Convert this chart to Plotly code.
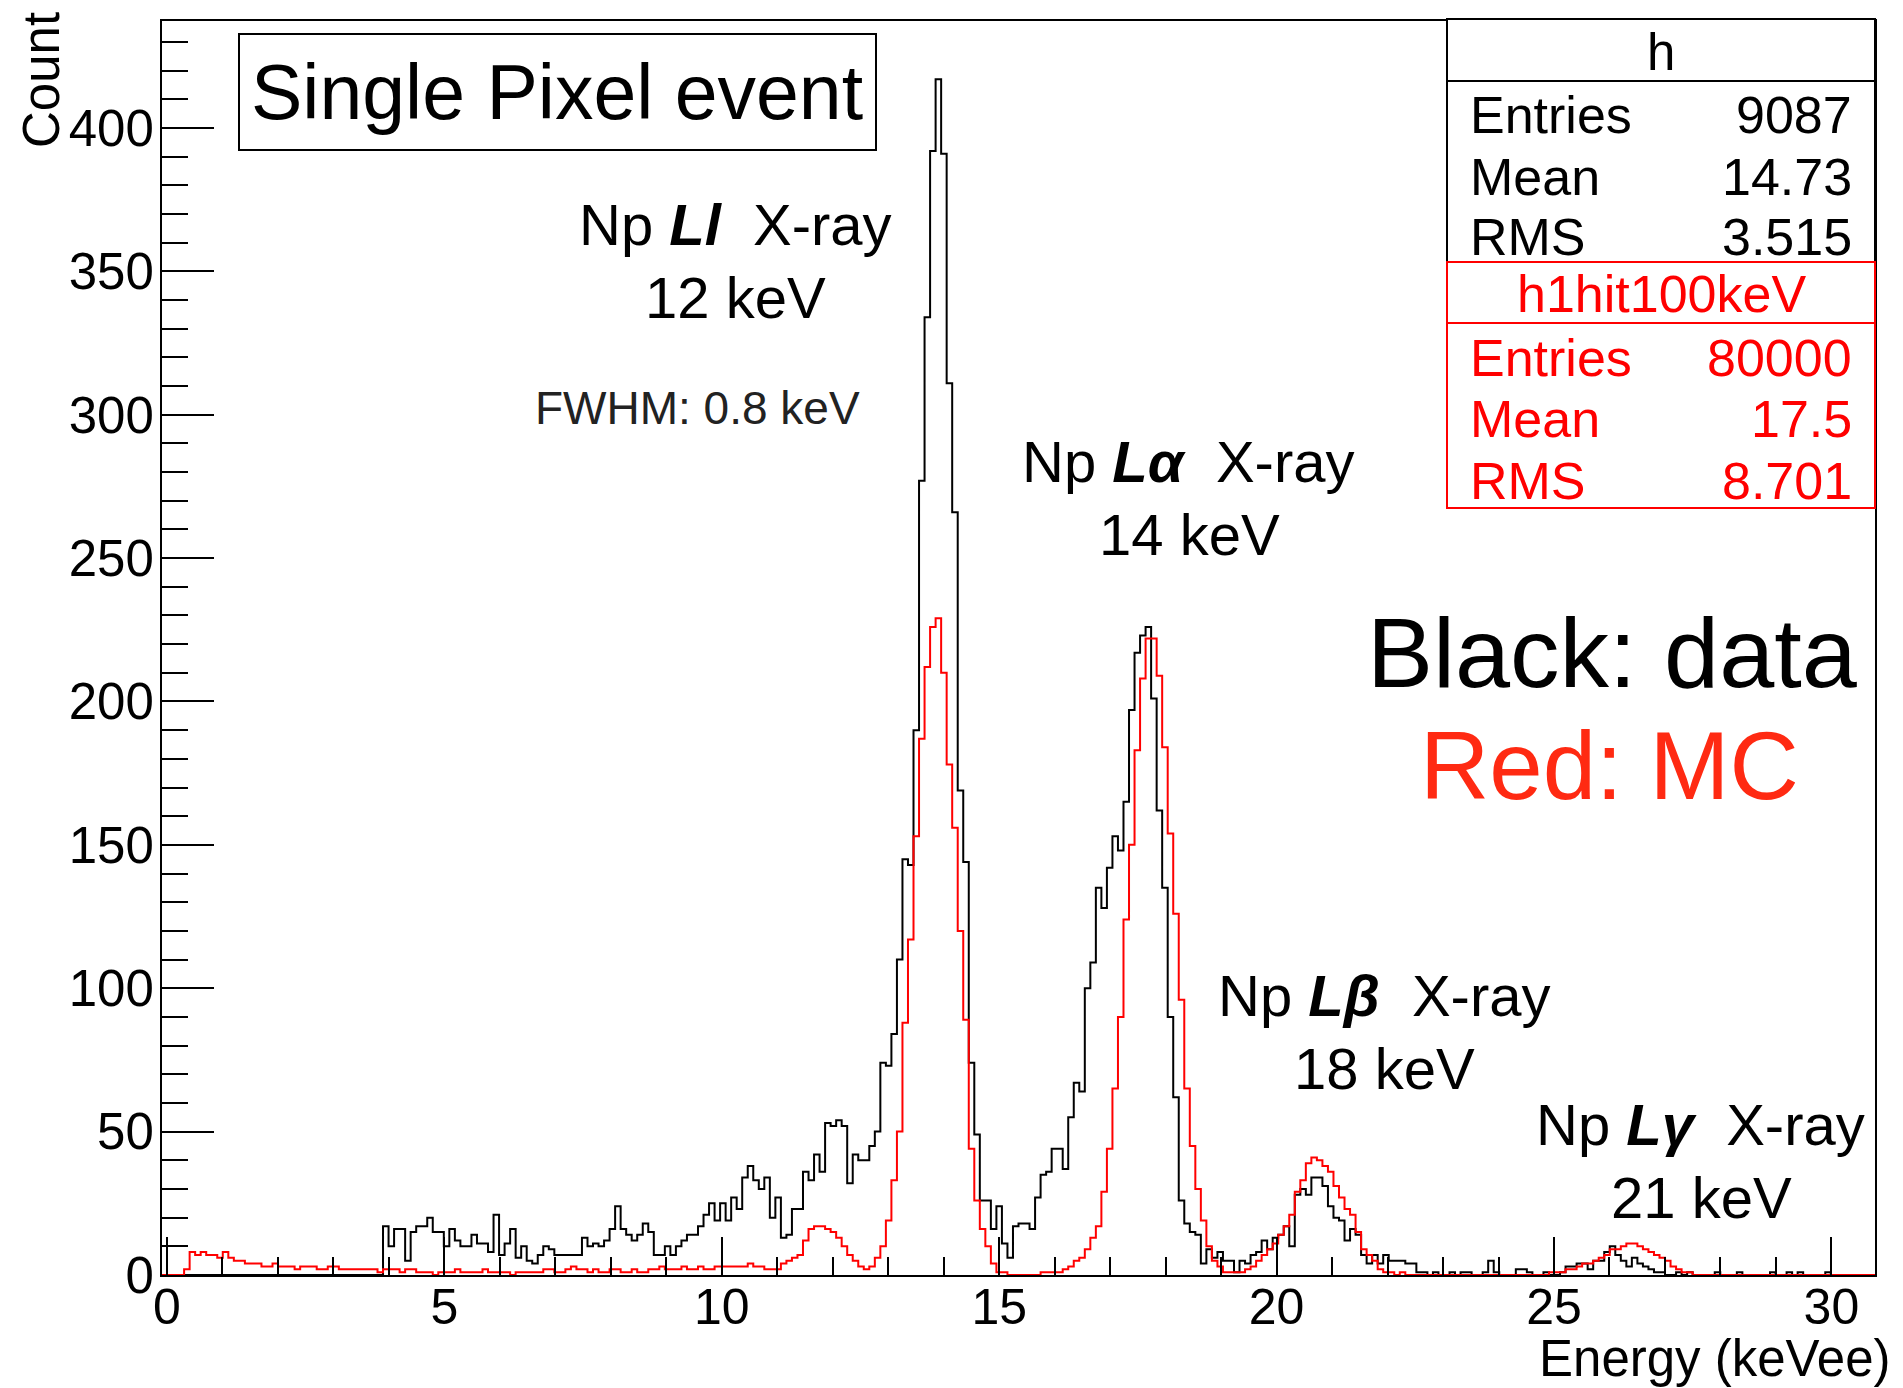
import numpy as np
import plotly.graph_objects as go

# ---------------- data ----------------
# histogram binning (keV)
bin_lo = -0.09
bin_width = 0.0996
n_bins = 310

# black: data  (counts per bin, bin index 0..309)
data_counts = [
    0, 0, 0, 0, 0, 0, 0, 0, 0, 0,
    0, 0, 0, 0, 0, 0, 0, 0, 0, 0,
    0, 0, 0, 0, 0, 0, 0, 0, 0, 0,
    0, 0, 0, 0, 0, 0, 0, 0, 0, 0,
    17, 10, 16, 16, 5, 15, 17, 17, 20, 15,
    15, 10, 16, 12, 10, 10, 14, 11, 11, 8,
    21, 7, 11, 16, 6, 10, 5, 4, 7, 10,
    9, 7, 7, 7, 7, 7, 13, 10, 11, 10,
    12, 16, 24, 16, 14, 12, 14, 18, 15, 7,
    7, 10, 7, 10, 12, 14, 14, 17, 21, 25,
    19, 25, 19, 27, 23, 34, 38, 33, 30, 34,
    20, 27, 13, 14, 23, 23, 36, 33, 42, 36,
    53, 52, 54, 52, 32, 42, 40, 40, 45, 50,
    74, 73, 84, 110, 145, 143, 190, 277, 334, 392,
    417, 391, 311, 266, 169, 144, 74, 49, 26, 26,
    16, 24, 11, 6, 17, 18, 18, 16, 27, 35,
    36, 44, 44, 37, 55, 67, 64, 100, 109, 135,
    128, 142, 153, 148, 165, 197, 217, 223, 226, 201,
    162, 135, 90, 62, 26, 18, 15, 14, 4, 9,
    6, 8, 5, 5, 1, 5, 4, 7, 8, 12,
    9, 13, 14, 17, 10, 28, 30, 28, 34, 34,
    31, 24, 20, 19, 12, 16, 14, 7, 4, 7,
    4, 7, 5, 5, 5, 4, 4, 1, 1, 0,
    1, 0, 0, 1, 0, 1, 1, 0, 0, 1,
    5, 1, 0, 0, 0, 2, 2, 1, 0, 0,
    1, 0, 0, 1, 3, 3, 4, 4, 2, 5,
    5, 8, 10, 7, 5, 3, 6, 4, 3, 2,
    1, 1, 0, 0, 1, 0, 1, 0, 0, 0,
    0, 1, 0, 0, 0, 1, 0, 0, 0, 0,
    0, 1, 0, 0, 1, 0, 1, 0, 0, 0,
    0, 1, 0, 0, 0, 0, 0, 0, 0, 0,
]

# red: MC (scaled counts per bin)
mc_counts = [
    0, 0, 0, 0, 2, 8, 7, 8, 7, 7,
    6, 8, 6, 5, 5, 4, 4, 4, 3, 3,
    4, 3, 3, 3, 2, 3, 3, 3, 2, 2,
    3, 3, 2, 2, 2, 2, 2, 2, 2, 1,
    2, 2, 2, 1, 2, 2, 1, 1, 1, 0,
    1, 1, 1, 2, 1, 1, 1, 1, 2, 1,
    1, 1, 1, 0, 1, 1, 1, 1, 1, 2,
    2, 1, 1, 2, 3, 2, 2, 1, 2, 1,
    1, 2, 2, 1, 1, 2, 1, 1, 2, 2,
    3, 2, 2, 2, 3, 2, 2, 3, 2, 2,
    3, 3, 3, 3, 3, 3, 4, 3, 3, 2,
    2, 2, 4, 5, 6, 7, 12, 16, 17, 17,
    16, 15, 13, 10, 7, 5, 3, 2, 3, 6,
    10, 19, 33, 50, 88, 117, 153, 187, 212, 226,
    229, 210, 178, 156, 120, 89, 44, 26, 16, 10,
    4, 1, 1, 0, 0, 0, 0, 0, 0, 1,
    1, 1, 1, 2, 3, 5, 6, 9, 13, 17,
    29, 44, 65, 90, 124, 150, 183, 208, 222, 222,
    209, 184, 154, 126, 96, 65, 45, 30, 19, 10,
    5, 3, 1, 1, 1, 1, 2, 3, 5, 7,
    9, 11, 14, 17, 21, 29, 33, 39, 41, 40,
    38, 36, 31, 27, 23, 21, 15, 9, 7, 5,
    2, 1, 1, 0, 1, 0, 0, 0, 0, 0,
    0, 0, 0, 0, 0, 0, 0, 0, 0, 0,
    0, 0, 0, 0, 0, 0, 0, 0, 0, 0,
    0, 1, 1, 1, 2, 2, 3, 4, 4, 5,
    6, 7, 9, 9, 10, 11, 11, 10, 9, 8,
    7, 6, 5, 3, 2, 1, 1, 0, 0, 0,
    0, 0, 0, 0, 0, 0, 0, 0, 0, 0,
    0, 0, 0, 0, 0, 0, 0, 0, 0, 0,
    0, 0, 0, 0, 0, 0, 0, 0, 0, 0,
]

x_tick_vals = [0, 5, 10, 15, 20, 25, 30]
y_tick_vals = [0, 50, 100, 150, 200, 250, 300, 350, 400]

stats_data = [("Entries", "9087"), ("Mean", "14.73"), ("RMS", "3.515")]
stats_mc = [("Entries", "80000"), ("Mean", "17.5"), ("RMS", "8.701")]

# ---------------- figure ----------------
edges = bin_lo + bin_width * np.arange(n_bins + 1)
bin_hi = edges[-1]


def step_xy(counts):
    xs = [edges[0]] + list(edges[:-1]) + [edges[-1], edges[-1]]
    ys = [0] + list(counts) + [counts[-1], 0]
    return xs, ys


FONT = "Liberation Sans, Arial, Helvetica, sans-serif"
RED = "#ff0000"

fig = go.Figure()
bx, by = step_xy(data_counts)
rx, ry = step_xy(mc_counts)
fig.add_trace(go.Scatter(x=bx, y=by, mode="lines", line=dict(color="black", width=2, shape="hv"),
                         hoverinfo="skip", showlegend=False))
fig.add_trace(go.Scatter(x=rx, y=ry, mode="lines", line=dict(color=RED, width=2, shape="hv"),
                         hoverinfo="skip", showlegend=False))

W, H = 1903, 1388
L, R, T, B = 162, 28, 21, 113
pw, ph = W - L - R, H - T - B


def px(X):
    return (X - L) / pw


def py(Y):
    return (H - B - Y) / ph


fig.update_layout(
    width=W, height=H,
    margin=dict(l=L, r=R, t=T, b=B, pad=0),
    paper_bgcolor="white", plot_bgcolor="white",
    font=dict(family=FONT, color="black"),
    showlegend=False,
)
fig.update_xaxes(
    range=[bin_lo, bin_hi], showgrid=False, zeroline=False,
    showline=True, linecolor="black", linewidth=2, mirror=True,
    ticks="inside", ticklen=38, tickwidth=2, tickcolor="black",
    tickvals=x_tick_vals, ticktext=[str(v) for v in x_tick_vals],
    tickfont=dict(size=50, family=FONT, color="black"),
    ticklabelstandoff=-13,
    minor=dict(dtick=1, tick0=0, ticks="inside", ticklen=18, tickwidth=2, tickcolor="black", showgrid=False),
)
fig.update_yaxes(
    range=[0, 437.3], showgrid=False, zeroline=False,
    showline=True, linecolor="black", linewidth=2, mirror=True,
    ticks="inside", ticklen=52, tickwidth=2, tickcolor="black",
    tickvals=y_tick_vals, ticktext=[str(v) for v in y_tick_vals],
    tickfont=dict(size=51, family=FONT, color="black"),
    ticklabelstandoff=-4,
    minor=dict(dtick=10, tick0=0, ticks="inside", ticklen=26, tickwidth=2, tickcolor="black", showgrid=False),
)

shapes = []
# "Single Pixel event" box
shapes.append(dict(type="rect", xref="paper", yref="paper", x0=px(239), x1=px(876), y0=py(150), y1=py(34),
                   line=dict(color="black", width=2), fillcolor="white", layer="above"))
# stats boxes
shapes.append(dict(type="rect", xref="paper", yref="paper", x0=px(1447), x1=1.0, y0=py(262), y1=py(19),
                   line=dict(color="black", width=2), fillcolor="white", layer="above"))
shapes.append(dict(type="line", xref="paper", yref="paper", x0=px(1447), x1=1.0, y0=py(81), y1=py(81),
                   line=dict(color="black", width=2)))
shapes.append(dict(type="rect", xref="paper", yref="paper", x0=px(1447), x1=1.0, y0=py(508), y1=py(262),
                   line=dict(color=RED, width=2), fillcolor="white", layer="above"))
shapes.append(dict(type="line", xref="paper", yref="paper", x0=px(1447), x1=1.0, y0=py(323), y1=py(323),
                   line=dict(color=RED, width=2)))
fig.update_layout(shapes=shapes)

ann = []


def text(X, Y, s, size, color="black", xanchor="center", angle=0):
    ann.append(dict(xref="paper", yref="paper", x=px(X), y=py(Y), text=s, showarrow=False,
                    xanchor=xanchor, yanchor="middle", textangle=angle,
                    font=dict(size=size, color=color, family=FONT)))


# axis titles
text(1893, 1358, "Energy (keVee)", 51, xanchor="right")
text(41, 80, "Count", 51, angle=-90)

# labels
text(557, 92, "Single Pixel event", 77)
sp = "\u00a0"
text(735, 224, "Np <b><i>Ll</i></b>" + sp + sp + "X-ray", 58)
text(735, 297, "12 keV", 58)
text(697, 408, "FWHM: 0.8 keV", 46, color="#222222")
text(1188, 461, "Np <b><i>Lα</i></b>" + sp + sp + "X-ray", 58)
text(1189, 534, "14 keV", 58)
text(1384, 995, "Np <b><i>Lβ</i></b>" + sp + sp + "X-ray", 58)
text(1384, 1068, "18 keV", 58)
text(1700, 1124, "Np <b><i>Lγ</i></b>" + sp + sp + "X-ray", 58)
text(1701, 1197, "21 keV", 58)
text(1612, 652, "Black: data", 99)
text(1609, 765, "Red: MC", 96, color="#ff2a12")

# stats text
text(1661, 52, "h", 51)
for (k, v), yy in zip(stats_data, [115, 177, 237]):
    text(1468, yy, k, 52, xanchor="left")
    text(1854, yy, v, 52, xanchor="right")
text(1661, 294, "h1hit100keV", 52, color=RED)
for (k, v), yy in zip(stats_mc, [358, 419, 481]):
    text(1468, yy, k, 52, color=RED, xanchor="left")
    text(1854, yy, v, 52, color=RED, xanchor="right")

fig.update_layout(annotations=ann)
fig.write_html("out.html")
